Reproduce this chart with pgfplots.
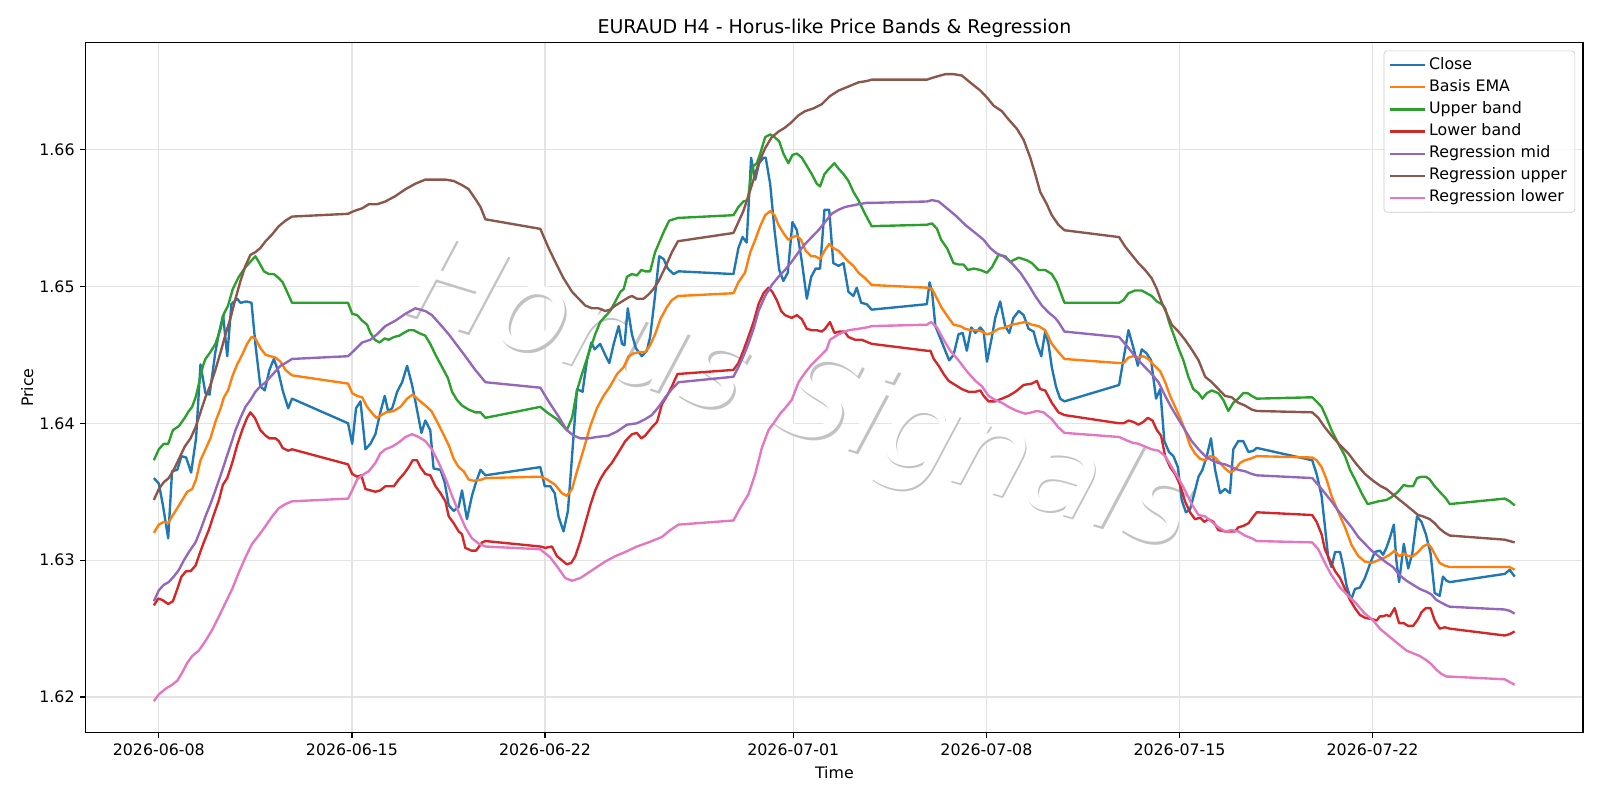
\documentclass[border=0pt]{standalone}
\usepackage{fontspec}
\setmainfont{DejaVu Sans}
\usepackage{pgfplots}
\usepackage{pgfplotstable}
\pgfplotsset{compat=1.18}
\definecolor{cClose}{HTML}{1F77B4}
\definecolor{cBasis}{HTML}{FF7F0E}
\definecolor{cUpper}{HTML}{2CA02C}
\definecolor{cLower}{HTML}{D62728}
\definecolor{cRmid}{HTML}{9467BD}
\definecolor{cRup}{HTML}{8C564B}
\definecolor{cRlo}{HTML}{E377C2}

% x = days since 2026-06-08 00:00, y = price
\pgfplotstableread{
d p
-0.18 1.6360
0.00 1.6356
0.15 1.6340
0.34 1.6316
0.48 1.6365
0.67 1.6366
0.82 1.6376
0.99 1.6375
1.17 1.6364
1.35 1.6389
1.51 1.6443
1.69 1.6422
1.84 1.6421
2.05 1.6452
2.18 1.6466
2.33 1.6479
2.48 1.6449
2.63 1.6487
2.84 1.6491
2.96 1.6488
3.18 1.6489
3.36 1.6488
3.50 1.6458
3.68 1.6427
3.84 1.6424
4.01 1.6439
4.17 1.6447
4.33 1.6438
4.49 1.6424
4.69 1.6411
4.83 1.6418
6.86 1.6400
7.01 1.6385
7.15 1.6411
7.31 1.6416
7.49 1.6381
7.67 1.6385
7.85 1.6392
8.03 1.6408
8.19 1.6420
8.31 1.6409
8.46 1.6411
8.64 1.6423
8.82 1.6430
9.00 1.6442
9.18 1.6428
9.32 1.6414
9.52 1.6393
9.66 1.6402
9.84 1.6395
9.96 1.6367
10.21 1.6366
10.36 1.6357
10.51 1.6340
10.69 1.6336
10.87 1.6339
10.99 1.6351
11.17 1.6330
11.35 1.6347
11.50 1.6357
11.66 1.6366
11.84 1.6362
13.83 1.6368
13.99 1.6354
14.19 1.6354
14.35 1.6349
14.49 1.6332
14.67 1.6321
14.83 1.6336
14.98 1.6376
15.16 1.6425
15.36 1.6423
15.52 1.6446
15.68 1.6459
15.80 1.6454
16.00 1.6458
16.18 1.6450
16.33 1.6444
16.49 1.6458
16.67 1.6471
16.79 1.6458
16.88 1.6457
17.00 1.6484
17.15 1.6465
17.29 1.6455
17.51 1.6449
17.69 1.6453
17.81 1.6463
17.97 1.6490
18.14 1.6522
18.30 1.6520
18.45 1.6513
18.66 1.6509
18.84 1.6511
20.83 1.6509
21.01 1.6528
21.16 1.6536
21.31 1.6532
21.47 1.6594
21.62 1.6578
21.76 1.6590
21.92 1.6594
22.00 1.6594
22.16 1.6575
22.32 1.6541
22.49 1.6512
22.64 1.6504
22.80 1.6510
22.97 1.6547
23.13 1.6541
23.31 1.6518
23.49 1.6491
23.65 1.6507
23.81 1.6513
23.97 1.6513
24.13 1.6556
24.30 1.6556
24.45 1.6517
24.64 1.6515
24.82 1.6517
25.00 1.6496
25.18 1.6493
25.30 1.6499
25.46 1.6488
25.66 1.6487
25.84 1.6483
27.84 1.6487
27.94 1.6503
28.03 1.6496
28.15 1.6471
28.41 1.6458
28.65 1.6446
28.81 1.6450
28.99 1.6465
29.14 1.6466
29.29 1.6453
29.45 1.6470
29.60 1.6466
29.78 1.6470
29.90 1.6467
30.02 1.6445
30.18 1.6461
30.32 1.6477
30.50 1.6489
30.68 1.6471
30.83 1.6466
30.98 1.6477
31.17 1.6482
31.35 1.6479
31.53 1.6469
31.71 1.6467
31.83 1.6458
31.99 1.6449
32.13 1.6467
32.25 1.6458
32.37 1.6441
32.52 1.6427
32.67 1.6418
32.83 1.6416
34.81 1.6428
34.97 1.6447
35.15 1.6468
35.33 1.6455
35.49 1.6442
35.63 1.6454
35.81 1.6451
35.97 1.6446
36.15 1.6418
36.30 1.6425
36.45 1.6387
36.62 1.6379
36.78 1.6376
36.94 1.6368
37.08 1.6344
37.23 1.6335
37.38 1.6337
37.54 1.6349
37.69 1.6361
37.83 1.6366
37.99 1.6376
38.14 1.6389
38.29 1.6366
38.47 1.6349
38.65 1.6352
38.83 1.6349
38.95 1.6381
39.13 1.6387
39.31 1.6387
39.50 1.6379
39.68 1.6380
39.80 1.6382
41.81 1.6373
41.97 1.6363
42.15 1.6347
42.27 1.6325
42.39 1.6302
42.51 1.6295
42.64 1.6306
42.82 1.6306
42.94 1.6295
43.06 1.6281
43.22 1.6271
43.36 1.6279
43.54 1.6280
43.72 1.6287
43.90 1.6297
44.08 1.6306
44.26 1.6307
44.38 1.6304
44.50 1.6309
44.62 1.6316
44.77 1.6326
44.86 1.6300
44.96 1.6284
45.13 1.6312
45.29 1.6294
45.44 1.6305
45.61 1.6332
45.77 1.6328
45.93 1.6319
46.10 1.6305
46.25 1.6276
46.43 1.6274
46.55 1.6288
46.68 1.6285
46.80 1.6284
48.79 1.6290
48.97 1.6293
49.15 1.6288
}\tclose

\pgfplotstableread{
d p
-0.18 1.6320
0.00 1.6326
0.18 1.6328
0.34 1.6327
0.48 1.6332
0.67 1.6338
0.85 1.6344
1.03 1.6350
1.21 1.6352
1.35 1.6359
1.51 1.6373
1.69 1.6381
1.87 1.6389
2.05 1.6401
2.24 1.6411
2.36 1.6419
2.51 1.6424
2.66 1.6434
2.84 1.6443
3.02 1.6450
3.20 1.6458
3.36 1.6463
3.50 1.6462
3.68 1.6455
3.87 1.6450
4.05 1.6449
4.23 1.6448
4.41 1.6445
4.59 1.6439
4.83 1.6435
6.86 1.6429
7.01 1.6422
7.19 1.6420
7.37 1.6419
7.55 1.6412
7.71 1.6408
7.88 1.6404
8.07 1.6406
8.24 1.6408
8.52 1.6409
8.76 1.6412
9.00 1.6418
9.20 1.6421
9.42 1.6417
9.66 1.6413
9.88 1.6409
10.09 1.6401
10.29 1.6393
10.51 1.6384
10.69 1.6374
10.87 1.6368
11.05 1.6365
11.23 1.6359
11.41 1.6358
11.72 1.6359
11.84 1.6360
13.83 1.6361
14.07 1.6359
14.37 1.6355
14.61 1.6349
14.79 1.6347
14.98 1.6352
15.16 1.6365
15.40 1.6381
15.64 1.6398
15.88 1.6411
16.12 1.6420
16.36 1.6427
16.61 1.6436
16.85 1.6441
17.03 1.6449
17.21 1.6451
17.39 1.6452
17.63 1.6452
17.81 1.6457
17.99 1.6465
18.18 1.6476
18.42 1.6485
18.60 1.6490
18.82 1.6493
20.83 1.6495
21.01 1.6503
21.25 1.6510
21.44 1.6525
21.62 1.6534
21.80 1.6544
21.98 1.6552
22.16 1.6555
22.32 1.6552
22.46 1.6545
22.64 1.6539
22.82 1.6534
22.97 1.6536
23.13 1.6537
23.28 1.6534
23.45 1.6526
23.65 1.6522
23.79 1.6522
23.97 1.6520
24.13 1.6526
24.30 1.6531
24.45 1.6528
24.64 1.6526
24.82 1.6522
25.00 1.6518
25.18 1.6515
25.36 1.6510
25.60 1.6506
25.84 1.6501
27.90 1.6499
28.03 1.6498
28.21 1.6491
28.39 1.6484
28.63 1.6477
28.81 1.6472
29.05 1.6471
29.23 1.6469
29.47 1.6468
29.66 1.6468
29.84 1.6467
30.02 1.6465
30.20 1.6466
30.44 1.6469
30.68 1.6470
30.92 1.6472
31.17 1.6473
31.41 1.6474
31.65 1.6472
31.89 1.6471
32.13 1.6468
32.37 1.6458
32.61 1.6452
32.83 1.6447
34.81 1.6444
34.97 1.6444
35.15 1.6448
35.33 1.6449
35.51 1.6448
35.69 1.6449
35.87 1.6447
36.05 1.6443
36.30 1.6438
36.48 1.6430
36.66 1.6420
36.84 1.6412
37.02 1.6404
37.20 1.6395
37.38 1.6384
37.56 1.6378
37.75 1.6374
37.93 1.6373
38.11 1.6376
38.29 1.6375
38.47 1.6371
38.65 1.6367
38.83 1.6364
39.01 1.6366
39.19 1.6371
39.37 1.6373
39.56 1.6374
39.80 1.6376
41.81 1.6375
41.97 1.6373
42.15 1.6368
42.33 1.6359
42.51 1.6347
42.76 1.6335
43.00 1.6324
43.24 1.6311
43.48 1.6303
43.72 1.6299
43.96 1.6298
44.21 1.6300
44.44 1.6302
44.62 1.6304
44.80 1.6307
44.96 1.6303
45.13 1.6305
45.29 1.6303
45.47 1.6303
45.65 1.6306
45.83 1.6310
46.01 1.6312
46.13 1.6309
46.29 1.6303
46.43 1.6298
46.62 1.6296
46.80 1.6295
48.79 1.6295
48.97 1.6295
49.15 1.6293
}\tbasis

\pgfplotstableread{
d p
-0.18 1.6373
0.00 1.6381
0.18 1.6385
0.34 1.6385
0.51 1.6395
0.73 1.6398
0.94 1.6404
1.09 1.6409
1.21 1.6412
1.35 1.6420
1.51 1.6434
1.60 1.6442
1.69 1.6447
1.87 1.6452
2.05 1.6458
2.24 1.6469
2.36 1.6480
2.51 1.6486
2.68 1.6498
2.90 1.6507
3.14 1.6514
3.32 1.6518
3.50 1.6522
3.62 1.6518
3.81 1.6511
3.99 1.6509
4.17 1.6509
4.35 1.6506
4.49 1.6503
4.65 1.6496
4.83 1.6488
6.86 1.6488
7.01 1.6480
7.19 1.6479
7.37 1.6475
7.55 1.6472
7.67 1.6466
7.83 1.6461
8.00 1.6459
8.19 1.6462
8.33 1.6461
8.52 1.6463
8.72 1.6464
8.88 1.6466
9.06 1.6468
9.24 1.6468
9.42 1.6466
9.66 1.6464
9.84 1.6458
10.03 1.6450
10.27 1.6441
10.48 1.6433
10.63 1.6423
10.81 1.6417
10.99 1.6413
11.23 1.6410
11.47 1.6408
11.66 1.6408
11.84 1.6404
13.83 1.6412
14.07 1.6408
14.43 1.6403
14.79 1.6395
14.98 1.6404
15.16 1.6424
15.34 1.6436
15.58 1.6451
15.82 1.6465
16.00 1.6474
16.18 1.6478
16.36 1.6482
16.55 1.6489
16.73 1.6496
16.85 1.6498
16.97 1.6507
17.15 1.6509
17.33 1.6508
17.49 1.6512
17.63 1.6511
17.81 1.6511
17.99 1.6525
18.18 1.6534
18.33 1.6541
18.50 1.6548
18.82 1.6550
20.83 1.6552
21.01 1.6558
21.19 1.6562
21.35 1.6563
21.50 1.6585
21.56 1.6588
21.68 1.6590
21.80 1.6597
21.98 1.6609
22.16 1.6611
22.32 1.6609
22.49 1.6606
22.64 1.6597
22.82 1.6590
22.97 1.6596
23.13 1.6597
23.31 1.6594
23.49 1.6588
23.67 1.6582
23.85 1.6575
23.97 1.6573
24.13 1.6582
24.30 1.6586
24.49 1.6590
24.64 1.6586
24.82 1.6582
25.00 1.6577
25.18 1.6569
25.36 1.6563
25.60 1.6553
25.84 1.6544
27.84 1.6545
28.03 1.6546
28.21 1.6542
28.36 1.6534
28.57 1.6528
28.81 1.6517
28.99 1.6516
29.17 1.6516
29.33 1.6512
29.54 1.6513
29.78 1.6512
30.02 1.6510
30.20 1.6514
30.44 1.6523
30.68 1.6522
30.86 1.6518
31.17 1.6521
31.47 1.6519
31.65 1.6517
31.89 1.6512
32.13 1.6512
32.37 1.6509
32.55 1.6503
32.83 1.6488
34.81 1.6488
34.97 1.6490
35.15 1.6495
35.39 1.6497
35.63 1.6497
35.81 1.6495
35.99 1.6493
36.18 1.6489
36.36 1.6487
36.48 1.6484
36.62 1.6474
36.78 1.6465
36.96 1.6455
37.14 1.6446
37.32 1.6434
37.50 1.6425
37.69 1.6422
37.83 1.6418
37.99 1.6422
38.17 1.6424
38.41 1.6422
38.59 1.6417
38.77 1.6409
38.95 1.6415
39.13 1.6418
39.31 1.6422
39.47 1.6422
39.62 1.6420
39.80 1.6418
41.81 1.6419
42.01 1.6415
42.15 1.6412
42.33 1.6404
42.51 1.6395
42.76 1.6385
43.00 1.6376
43.18 1.6366
43.36 1.6359
43.60 1.6349
43.82 1.6341
44.02 1.6342
44.21 1.6343
44.50 1.6344
44.68 1.6346
44.92 1.6350
45.13 1.6355
45.29 1.6354
45.47 1.6354
45.61 1.6360
45.77 1.6361
45.93 1.6361
46.07 1.6359
46.25 1.6354
46.43 1.6350
46.62 1.6346
46.80 1.6341
48.79 1.6345
48.97 1.6343
49.15 1.6340
}\tupper

\pgfplotstableread{
d p
-0.18 1.6267
-0.02 1.6272
0.12 1.6271
0.34 1.6268
0.51 1.6270
0.67 1.6279
0.82 1.6288
0.99 1.6292
1.15 1.6292
1.33 1.6296
1.45 1.6303
1.63 1.6313
1.81 1.6322
1.99 1.6333
2.18 1.6344
2.32 1.6355
2.48 1.6360
2.66 1.6371
2.84 1.6384
3.02 1.6395
3.20 1.6404
3.32 1.6408
3.48 1.6404
3.68 1.6395
3.87 1.6391
4.01 1.6389
4.23 1.6389
4.35 1.6387
4.49 1.6382
4.69 1.6380
4.83 1.6381
6.86 1.6370
7.01 1.6363
7.19 1.6361
7.34 1.6362
7.49 1.6352
7.67 1.6351
7.85 1.6350
8.03 1.6351
8.21 1.6354
8.52 1.6354
8.70 1.6359
8.88 1.6363
9.06 1.6368
9.20 1.6373
9.36 1.6373
9.48 1.6368
9.66 1.6363
9.84 1.6362
10.03 1.6354
10.21 1.6349
10.39 1.6343
10.51 1.6332
10.69 1.6327
10.87 1.6321
10.99 1.6319
11.11 1.6309
11.33 1.6307
11.50 1.6307
11.72 1.6313
11.84 1.6314
13.83 1.6310
14.01 1.6309
14.25 1.6310
14.43 1.6303
14.61 1.6300
14.79 1.6297
14.95 1.6298
15.10 1.6303
15.28 1.6314
15.46 1.6327
15.64 1.6340
15.82 1.6351
16.00 1.6359
16.18 1.6365
16.42 1.6371
16.67 1.6379
16.91 1.6387
17.15 1.6392
17.33 1.6393
17.49 1.6389
17.63 1.6391
17.87 1.6397
18.06 1.6401
18.24 1.6414
18.42 1.6420
18.60 1.6427
18.80 1.6436
20.83 1.6439
21.01 1.6444
21.19 1.6453
21.37 1.6463
21.56 1.6474
21.74 1.6487
21.92 1.6495
22.10 1.6499
22.24 1.6496
22.40 1.6490
22.56 1.6482
22.70 1.6479
22.94 1.6477
23.13 1.6479
23.31 1.6476
23.49 1.6469
23.67 1.6468
23.85 1.6468
24.03 1.6467
24.15 1.6469
24.33 1.6474
24.49 1.6466
24.66 1.6467
24.85 1.6467
25.00 1.6463
25.24 1.6461
25.48 1.6461
25.72 1.6459
25.85 1.6458
27.84 1.6453
27.97 1.6453
28.09 1.6447
28.27 1.6442
28.45 1.6436
28.63 1.6431
28.87 1.6428
29.11 1.6425
29.35 1.6423
29.60 1.6423
29.78 1.6424
29.90 1.6420
30.08 1.6416
30.32 1.6416
30.56 1.6418
30.80 1.6420
31.05 1.6423
31.35 1.6428
31.65 1.6429
31.83 1.6431
31.95 1.6425
32.13 1.6424
32.37 1.6415
32.61 1.6408
32.83 1.6406
34.81 1.6400
34.97 1.6400
35.15 1.6402
35.33 1.6401
35.51 1.6399
35.69 1.6401
35.85 1.6404
36.02 1.6402
36.18 1.6395
36.33 1.6391
36.48 1.6376
36.66 1.6368
36.84 1.6363
37.02 1.6355
37.20 1.6343
37.38 1.6335
37.56 1.6330
37.75 1.6331
37.90 1.6328
38.05 1.6330
38.23 1.6328
38.41 1.6322
38.65 1.6321
38.83 1.6321
39.01 1.6321
39.13 1.6324
39.31 1.6325
39.50 1.6327
39.68 1.6332
39.80 1.6335
41.81 1.6333
41.97 1.6328
42.15 1.6319
42.27 1.6308
42.45 1.6300
42.64 1.6292
42.82 1.6287
43.00 1.6279
43.18 1.6271
43.36 1.6265
43.54 1.6260
43.72 1.6258
43.96 1.6257
44.15 1.6256
44.26 1.6259
44.38 1.6259
44.50 1.6260
44.62 1.6259
44.80 1.6265
44.96 1.6254
45.13 1.6254
45.29 1.6252
45.47 1.6252
45.65 1.6257
45.77 1.6262
45.93 1.6265
46.10 1.6265
46.25 1.6256
46.43 1.6250
46.62 1.6251
46.80 1.6250
48.79 1.6245
48.97 1.6246
49.15 1.6248
}\tlower

\pgfplotstableread{
d p
-0.18 1.6270
0.00 1.6278
0.18 1.6282
0.36 1.6284
0.54 1.6288
0.73 1.6293
0.91 1.6300
1.09 1.6306
1.33 1.6313
1.51 1.6322
1.69 1.6332
1.87 1.6341
2.05 1.6351
2.24 1.6362
2.42 1.6373
2.60 1.6384
2.78 1.6395
2.96 1.6404
3.14 1.6412
3.32 1.6417
3.50 1.6423
3.68 1.6427
3.87 1.6430
4.05 1.6434
4.23 1.6438
4.41 1.6442
4.59 1.6444
4.83 1.6447
6.86 1.6449
7.07 1.6453
7.37 1.6459
7.67 1.6461
7.91 1.6465
8.21 1.6471
8.58 1.6475
8.94 1.6480
9.30 1.6484
9.66 1.6482
9.90 1.6479
10.21 1.6472
10.51 1.6465
10.81 1.6457
11.11 1.6449
11.47 1.6439
11.84 1.6430
13.83 1.6426
14.13 1.6416
14.49 1.6405
14.79 1.6395
15.04 1.6391
15.28 1.6389
15.58 1.6389
15.88 1.6390
16.30 1.6391
16.61 1.6394
16.97 1.6399
17.33 1.6400
17.63 1.6403
17.87 1.6406
18.12 1.6412
18.36 1.6419
18.60 1.6425
18.84 1.6430
20.83 1.6434
21.01 1.6441
21.19 1.6449
21.37 1.6458
21.56 1.6469
21.74 1.6482
21.98 1.6493
22.22 1.6501
22.46 1.6507
22.70 1.6512
22.94 1.6518
23.19 1.6525
23.43 1.6531
23.67 1.6536
23.91 1.6541
24.15 1.6547
24.39 1.6553
24.64 1.6556
24.88 1.6558
25.12 1.6559
25.36 1.6560
25.66 1.6561
25.85 1.6561
27.84 1.6562
28.03 1.6563
28.27 1.6562
28.57 1.6557
28.87 1.6552
29.23 1.6545
29.60 1.6539
29.90 1.6534
30.14 1.6528
30.38 1.6524
30.62 1.6522
30.92 1.6517
31.23 1.6510
31.53 1.6501
31.77 1.6493
32.01 1.6486
32.25 1.6481
32.49 1.6477
32.61 1.6474
32.83 1.6467
34.81 1.6463
35.03 1.6458
35.27 1.6452
35.51 1.6446
35.75 1.6441
35.99 1.6436
36.24 1.6430
36.48 1.6420
36.72 1.6411
36.96 1.6403
37.20 1.6395
37.44 1.6387
37.69 1.6381
37.93 1.6376
38.17 1.6373
38.41 1.6371
38.65 1.6370
38.89 1.6368
39.13 1.6366
39.37 1.6365
39.62 1.6363
39.80 1.6362
41.81 1.6360
42.03 1.6355
42.27 1.6349
42.51 1.6343
42.76 1.6336
43.00 1.6330
43.24 1.6324
43.48 1.6317
43.72 1.6312
43.96 1.6307
44.21 1.6303
44.45 1.6299
44.74 1.6295
44.98 1.6289
45.23 1.6285
45.47 1.6282
45.71 1.6279
45.95 1.6277
46.13 1.6275
46.31 1.6271
46.49 1.6269
46.68 1.6267
46.80 1.6266
48.79 1.6264
48.97 1.6263
49.15 1.6261
}\trmid

\pgfplotstableread{
d p
-0.18 1.6344
0.00 1.6352
0.18 1.6357
0.36 1.6360
0.54 1.6366
0.73 1.6374
0.94 1.6383
1.15 1.6389
1.33 1.6397
1.51 1.6408
1.69 1.6419
1.87 1.6428
2.05 1.6439
2.24 1.6452
2.42 1.6465
2.60 1.6477
2.78 1.6491
2.96 1.6504
3.14 1.6515
3.32 1.6523
3.50 1.6525
3.68 1.6528
3.87 1.6533
4.11 1.6538
4.35 1.6544
4.59 1.6548
4.83 1.6551
6.86 1.6553
7.07 1.6555
7.37 1.6557
7.61 1.6560
7.91 1.6560
8.21 1.6562
8.58 1.6566
8.94 1.6571
9.30 1.6575
9.66 1.6578
10.03 1.6578
10.39 1.6578
10.69 1.6577
10.99 1.6574
11.23 1.6571
11.47 1.6564
11.66 1.6558
11.84 1.6549
13.83 1.6542
14.13 1.6528
14.37 1.6518
14.67 1.6506
14.98 1.6496
15.22 1.6491
15.46 1.6486
15.70 1.6484
15.94 1.6484
16.18 1.6482
16.36 1.6483
16.55 1.6486
16.79 1.6489
17.03 1.6492
17.15 1.6493
17.33 1.6491
17.57 1.6491
17.75 1.6494
17.93 1.6498
18.12 1.6504
18.36 1.6514
18.60 1.6525
18.82 1.6533
20.83 1.6539
21.01 1.6547
21.19 1.6555
21.37 1.6566
21.56 1.6578
21.74 1.6590
21.98 1.6601
22.22 1.6609
22.46 1.6613
22.70 1.6616
22.94 1.6620
23.19 1.6625
23.43 1.6628
23.73 1.6630
24.03 1.6633
24.33 1.6639
24.64 1.6643
25.00 1.6646
25.36 1.6649
25.66 1.6650
25.85 1.6651
27.84 1.6651
28.15 1.6653
28.51 1.6655
28.81 1.6655
29.11 1.6654
29.47 1.6648
29.78 1.6643
30.02 1.6638
30.26 1.6632
30.56 1.6628
30.80 1.6622
31.11 1.6615
31.35 1.6607
31.59 1.6594
31.77 1.6582
31.95 1.6569
32.19 1.6560
32.37 1.6552
32.61 1.6545
32.83 1.6541
34.81 1.6536
35.03 1.6529
35.27 1.6523
35.51 1.6517
35.75 1.6512
35.99 1.6506
36.18 1.6498
36.36 1.6488
36.54 1.6480
36.72 1.6472
36.96 1.6467
37.20 1.6461
37.44 1.6454
37.69 1.6446
37.93 1.6434
38.17 1.6430
38.41 1.6425
38.65 1.6420
38.89 1.6419
39.13 1.6415
39.37 1.6413
39.62 1.6410
39.80 1.6409
41.81 1.6408
42.03 1.6404
42.27 1.6397
42.51 1.6391
42.82 1.6384
43.12 1.6378
43.42 1.6370
43.72 1.6363
44.02 1.6358
44.30 1.6354
44.50 1.6352
44.74 1.6348
44.98 1.6344
45.23 1.6340
45.47 1.6336
45.65 1.6333
45.83 1.6332
46.07 1.6330
46.25 1.6327
46.43 1.6323
46.62 1.6320
46.80 1.6318
48.79 1.6315
48.97 1.6314
49.15 1.6313
}\trup

\pgfplotstableread{
d p
-0.18 1.6197
0.00 1.6202
0.24 1.6206
0.48 1.6209
0.67 1.6212
0.85 1.6218
1.03 1.6225
1.21 1.6230
1.45 1.6234
1.69 1.6241
1.93 1.6249
2.18 1.6259
2.42 1.6269
2.66 1.6279
2.90 1.6291
3.14 1.6302
3.38 1.6312
3.62 1.6318
3.87 1.6325
4.11 1.6332
4.35 1.6338
4.59 1.6341
4.83 1.6343
6.86 1.6345
7.01 1.6351
7.19 1.6359
7.37 1.6362
7.61 1.6365
7.85 1.6371
8.03 1.6378
8.21 1.6381
8.46 1.6383
8.70 1.6386
8.94 1.6390
9.18 1.6392
9.42 1.6390
9.66 1.6387
9.90 1.6381
10.15 1.6371
10.39 1.6360
10.63 1.6347
10.87 1.6335
11.11 1.6324
11.35 1.6316
11.60 1.6312
11.84 1.6310
13.83 1.6308
14.19 1.6302
14.49 1.6294
14.73 1.6287
14.98 1.6285
15.28 1.6287
15.58 1.6291
15.88 1.6295
16.18 1.6299
16.55 1.6303
16.91 1.6306
17.33 1.6310
17.75 1.6313
18.24 1.6317
18.54 1.6322
18.84 1.6326
20.83 1.6329
21.07 1.6338
21.37 1.6348
21.62 1.6363
21.86 1.6382
22.10 1.6395
22.32 1.6401
22.52 1.6407
22.70 1.6411
22.94 1.6417
23.19 1.6430
23.43 1.6437
23.67 1.6443
23.97 1.6449
24.21 1.6454
24.33 1.6461
24.64 1.6465
25.00 1.6468
25.36 1.6469
25.66 1.6470
25.85 1.6471
27.84 1.6472
28.00 1.6474
28.21 1.6470
28.45 1.6461
28.69 1.6453
28.99 1.6446
29.29 1.6438
29.60 1.6431
29.84 1.6427
30.08 1.6420
30.32 1.6417
30.56 1.6415
30.80 1.6412
31.11 1.6409
31.41 1.6407
31.65 1.6408
31.83 1.6409
32.07 1.6408
32.37 1.6403
32.61 1.6397
32.83 1.6393
34.81 1.6390
35.03 1.6388
35.27 1.6386
35.51 1.6385
35.75 1.6383
35.99 1.6381
36.24 1.6380
36.48 1.6376
36.72 1.6368
36.96 1.6360
37.20 1.6351
37.44 1.6341
37.69 1.6333
37.93 1.6332
38.17 1.6328
38.41 1.6324
38.65 1.6321
38.89 1.6322
39.13 1.6321
39.37 1.6318
39.62 1.6316
39.80 1.6314
41.81 1.6313
42.03 1.6308
42.27 1.6298
42.51 1.6289
42.82 1.6280
43.12 1.6274
43.42 1.6268
43.72 1.6261
44.02 1.6256
44.26 1.6250
44.50 1.6246
44.74 1.6242
44.98 1.6238
45.23 1.6234
45.47 1.6232
45.71 1.6230
45.95 1.6227
46.13 1.6224
46.31 1.6220
46.49 1.6217
46.68 1.6215
46.80 1.6215
48.79 1.6213
48.97 1.6211
49.15 1.6209
}\trlo

\begin{document}
\begin{tikzpicture}
\useasboundingbox (-54.2pt,-42.6pt) rectangle (957.5pt,463.3pt);
\begin{axis}[
  at={(0,0)}, anchor=south west,
  width=946.8pt, height=436.3pt, scale only axis,
  xmin=-2.65, xmax=51.63, ymin=1.6174, ymax=1.6678,
  xtick={0,7,14,23,30,37,44},
  xticklabels={2026-06-08,2026-06-15,2026-06-22,2026-07-01,2026-07-08,2026-07-15,2026-07-22},
  ytick={1.62,1.63,1.64,1.65,1.66},
  yticklabels={1.62,1.63,1.64,1.65,1.66},
  scaled y ticks=false, scaled x ticks=false,
  tick pos=left, tick align=outside, major tick length=3.5pt,
  every tick/.style={black, line width=0.8pt},
  axis line style={line width=0.8pt},
  grid=major, major grid style={line width=0.8pt, color=black!11},
  tick label style={font=\fontsize{10}{12}\selectfont},
  label style={font=\fontsize{10}{12}\selectfont},
  xlabel={Time}, ylabel={Price},
  ylabel shift=-3pt,
  every axis title/.style={at={(0.5,1)}, anchor=base, yshift=6pt, font=\fontsize{12}{14}\selectfont},
  title={EURAUD H4 - Horus-like Price Bands \& Regression},
  legend style={at={(1,1)}, anchor=north east, xshift=-5pt, yshift=-5pt,
    draw=black!20, rounded corners=2pt, fill=white, fill opacity=0.8, text opacity=1,
    font=\fontsize{10}{12}\selectfont, inner xsep=3pt, inner ysep=2pt, row sep=0pt,
    nodes={inner sep=2pt, text height=7.5pt, text depth=2.5pt}},
  legend cell align=left,
  legend image code/.code={\draw[#1] (-2pt,0pt) -- (20pt,0pt);},
  every axis plot/.append style={line width=1.5pt, line join=round},
]
\node[rotate=-17, text=black!24, xshift=1.4pt, yshift=-1.4pt, font=\fontsize{75}{90}\selectfont\itshape]
  at (axis description cs:0.477,0.482) {Horus Signals};
\node[rotate=-17, text=white, font=\fontsize{75}{90}\selectfont\itshape]
  at (axis description cs:0.477,0.482) {Horus Signals};
\addplot[cClose] table[x=d,y=p] {\tclose};
\addlegendentry{Close}
\addplot[cBasis] table[x=d,y=p] {\tbasis};
\addlegendentry{Basis EMA}
\addplot[cUpper] table[x=d,y=p] {\tupper};
\addlegendentry{Upper band}
\addplot[cLower] table[x=d,y=p] {\tlower};
\addlegendentry{Lower band}
\addplot[cRmid] table[x=d,y=p] {\trmid};
\addlegendentry{Regression mid}
\addplot[cRup] table[x=d,y=p] {\trup};
\addlegendentry{Regression upper}
\addplot[cRlo] table[x=d,y=p] {\trlo};
\addlegendentry{Regression lower}
\end{axis}
\end{tikzpicture}
\end{document}
